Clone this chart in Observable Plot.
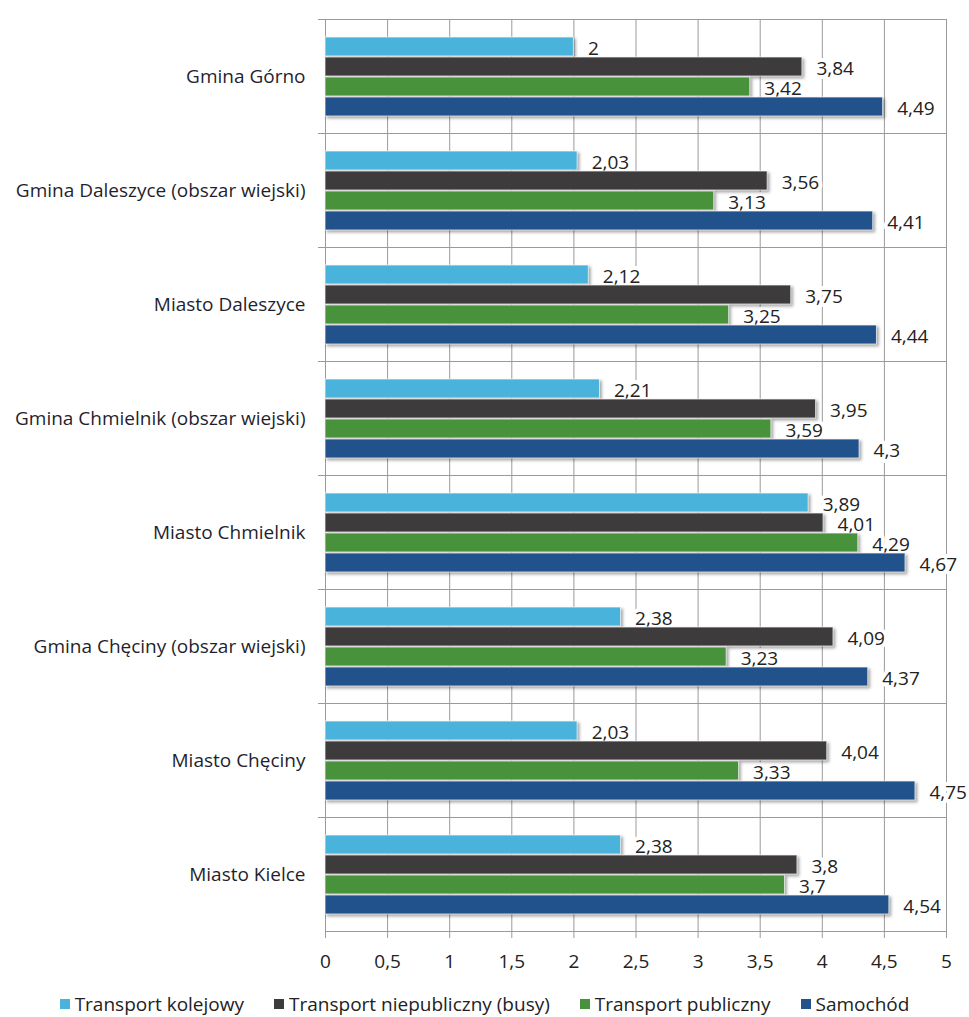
<!DOCTYPE html>
<html><head><meta charset="utf-8">
<script src="https://cdn.jsdelivr.net/npm/d3@7"></script>
<script src="https://cdn.jsdelivr.net/npm/@observablehq/plot@0.6"></script>
<style>
body{margin:0;background:#fff;font-family:"Open Sans",sans-serif;}
#legend{display:flex;justify-content:center;gap:30px;font-size:19px;color:#222;height:26px;align-items:center;}
#legend .item{display:flex;align-items:center;gap:5px;}
#legend .sw{width:10px;height:10px;display:inline-block;}
</style></head><body><div id="chart"></div><div id="legend"></div>
<script>
const categories = ["Gmina Górno","Gmina Daleszyce (obszar wiejski)","Miasto Daleszyce","Gmina Chmielnik (obszar wiejski)","Miasto Chmielnik","Gmina Chęciny (obszar wiejski)","Miasto Chęciny","Miasto Kielce"];
const seriesNames = ["Transport kolejowy","Transport niepubliczny (busy)","Transport publiczny","Samochód"];
const kolejowy  = [2, 2.03, 2.12, 2.21, 3.89, 2.38, 2.03, 2.38];
const busy      = [3.84, 3.56, 3.75, 3.95, 4.01, 4.09, 4.04, 3.8];
const publiczny = [3.42, 3.13, 3.25, 3.59, 4.29, 3.23, 3.33, 3.7];
const samochod  = [4.49, 4.41, 4.44, 4.3, 4.67, 4.37, 4.75, 4.54];
const xTicks = [0, 0.5, 1, 1.5, 2, 2.5, 3, 3.5, 4, 4.5, 5];
const colors = ["#4AB3DB", "#3D3B3C", "#47923A", "#22528B"];

const seriesValues = [kolejowy, busy, publiczny, samochod];
const data = categories.flatMap((c, i) => seriesNames.map((s, j) => ({category: c, series: s, value: seriesValues[j][i]})));
const fmt = d => String(d).replace(".", ",");

const chart = Plot.plot({
  width: 969, height: 991,
  marginTop: 17, marginBottom: 58, marginLeft: 325, marginRight: 23,
  style: {fontFamily: "Open Sans", fontSize: "19px", color: "#222", background: "#fff"},
  x: {domain: [0, 5], axis: null},
  y: {domain: seriesNames, paddingInner: 0.05, paddingOuter: 0.76, axis: null},
  fy: {domain: categories, padding: 0, label: null},
  color: {domain: seriesNames, range: colors},
  marks: [
    Plot.gridX(xTicks, {stroke: "#9a9a9a", strokeOpacity: 1}),
    Plot.frame({stroke: "#9a9a9a"}),
    Plot.frame({anchor: "top", insetLeft: -7, stroke: "#9a9a9a"}),
    Plot.text(data, {fy: "category", y: "series", x: "value", text: d => fmt(d.value), textAnchor: "start", dx: 14, dy: 2, fontSize: 19, fill: "#222", stroke: "white", strokeWidth: 8}),
    Plot.barX(data, {fy: "category", y: "series", x: "value", fill: "series", stroke: "#ffffff", strokeOpacity: 0.7}),
    Plot.axisX(xTicks, {anchor: "bottom", tickFormat: fmt, tickSize: 7, tickPadding: 16, label: null, stroke: "#9a9a9a", fill: "#222", fontSize: 19}),
    Plot.axisFy({anchor: "left", tickSize: 0, tickPadding: 20, label: null, fill: "#1f1f2f", fontSize: 19})
  ]
});
d3.select(chart).selectAll('g[aria-label="bar"]').style("filter", "drop-shadow(2px 2px 1.5px rgba(0,0,0,0.35))");
document.getElementById("chart").appendChild(chart);

const legend = document.getElementById("legend");
seriesNames.forEach((s, i) => {
  const it = document.createElement("div");
  it.className = "item";
  it.innerHTML = `<span class="sw" style="background:${colors[i]}"></span><span>${s}</span>`;
  legend.appendChild(it);
});
</script></body></html>
